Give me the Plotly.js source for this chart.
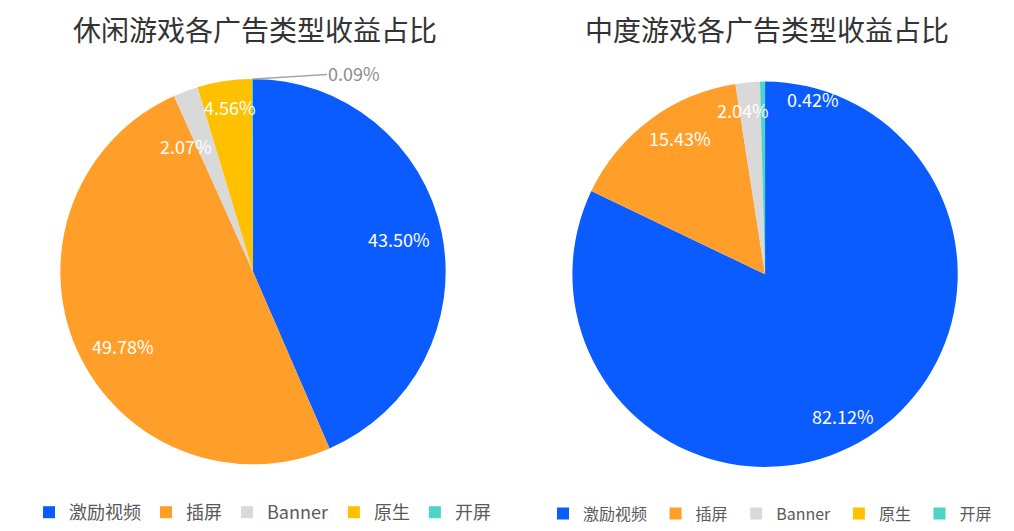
<!DOCTYPE html>
<html>
<head>
<meta charset="utf-8">
<script src="https://cdn.plot.ly/plotly-3.0.1.min.js"></script>
<style>
  html, body { margin: 0; padding: 0; background: #fff; }
  #chart { width: 1014px; height: 531px; }
</style>
</head>
<body>
<div id="chart"></div>
<script>
// ad types and revenue share (%)
const adTypes = ['激励视频', '插屏', 'Banner', '原生', '开屏'];
const casualShare = [43.50, 49.78, 2.07, 4.56, 0.09];
const midcoreShare = [82.12, 15.43, 2.04, 0, 0.42];
const colors = ['#0a5cff', '#ff9f2a', '#d9d9d9', '#ffc000', '#4dd4c8'];

const W = 1014, H = 531;
const font = 'Noto Sans CJK SC, Noto Sans, sans-serif';
const labelSize = 18;

const casualDom = { x: [0.059, 0.44], y: [0.124, 0.851] };
const midcoreDom = { x: [0.564, 0.945], y: [0.119, 0.846] };

// label placement tweaks (px), like excel pushes crowded labels around
const casualNudge = { 0: [-5, -1], 1: [11, 12], 2: [-13, 19], 3: [0, -12] };
const midcoreNudge = { 0: [-4, 11], 1: [7, -13], 2: [-8, -11] };

// put the % labels on the slices, computed from the values
function sliceLabels(values, dom, nudge, smallMode) {
  const cx = (dom.x[0] + dom.x[1]) / 2 * W;
  const cy = (1 - (dom.y[0] + dom.y[1]) / 2) * H;
  const r = Math.min((dom.x[1] - dom.x[0]) * W, (dom.y[1] - dom.y[0]) * H) / 2;
  const total = values.reduce((a, b) => a + b, 0);
  const out = [];
  let cum = 0;
  values.forEach((v, i) => {
    const mid = (cum + v / 2) / total * 2 * Math.PI;
    cum += v;
    if (v <= 0) return;
    const txt = v.toFixed(2) + '%';
    if (v < 1) {
      if (smallMode === 'outside') {
        const ex = cx + r * Math.sin(mid), ey = cy - r * Math.cos(mid);
        out.push({ text: txt, xref: 'paper', yref: 'paper', x: ex / W, y: 1 - ey / H,
          showarrow: true, arrowhead: 0, arrowwidth: 1.5, arrowcolor: '#a6a6a6',
          ax: 102, ay: -6, xanchor: 'center', yanchor: 'middle',
          font: { size: labelSize, color: '#8c8c8c', family: font } });
      } else {
        const px = cx + r * 0.9 * Math.sin(mid), py = cy - r * 0.9 * Math.cos(mid);
        out.push({ text: txt, xref: 'paper', yref: 'paper', x: px / W, y: 1 - py / H,
          showarrow: false, xanchor: 'left', yanchor: 'middle', xshift: 22, yshift: 2,
          font: { size: labelSize, color: '#fff', family: font } });
      }
      return;
    }
    const d = nudge[i] || [0, 0];
    const px = cx + r * 0.8 * Math.sin(mid) + d[0];
    const py = cy - r * 0.8 * Math.cos(mid) + d[1];
    out.push({ text: txt, xref: 'paper', yref: 'paper', x: px / W, y: 1 - py / H,
      showarrow: false, xanchor: 'center', yanchor: 'middle',
      font: { size: labelSize, color: '#fff', family: font } });
  });
  return out;
}

const left = {
  type: 'pie',
  labels: adTypes,
  values: casualShare,
  textinfo: 'none',
  sort: false,
  direction: 'clockwise',
  marker: { colors: colors, line: { color: '#fff', width: 0 } },
  domain: casualDom,
  hoverinfo: 'label+percent',
  legend: 'legend'
};

const right = {
  type: 'pie',
  // trailing space keeps the second legend from merging with the first
  labels: adTypes.map(l => l + ' '),
  values: midcoreShare,
  textinfo: 'none',
  sort: false,
  direction: 'clockwise',
  marker: { colors: colors, line: { color: '#fff', width: 0 } },
  domain: midcoreDom,
  hoverinfo: 'label+percent',
  legend: 'legend2'
};

const legendStyle = {
  orientation: 'h', xanchor: 'left', yanchor: 'middle', y: 0.033,
  font: { size: 18, color: '#595959', family: font },
  itemwidth: 30
};

const titleFont = { size: 28, color: '#333333', family: font };

const layout = {
  width: W,
  height: H,
  margin: { l: 0, r: 0, t: 0, b: 0 },
  paper_bgcolor: '#fff',
  font: { family: font, color: '#595959' },
  showlegend: true,
  legend: Object.assign({}, legendStyle, { x: 0.0286 }),
  // right legend a bit smaller so it stays inside the page
  legend2: Object.assign({}, legendStyle, { x: 0.5355,
    font: { size: 16, color: '#595959', family: font } }),
  annotations: [
    { text: '休闲游戏各广告类型收益占比', xref: 'paper', yref: 'paper', x: 0.251, y: 0.946,
      xanchor: 'center', yanchor: 'middle', showarrow: false, font: titleFont },
    { text: '中度游戏各广告类型收益占比', xref: 'paper', yref: 'paper', x: 0.756, y: 0.946,
      xanchor: 'center', yanchor: 'middle', showarrow: false, font: titleFont }
  ].concat(
    sliceLabels(casualShare, casualDom, casualNudge, 'outside'),
    sliceLabels(midcoreShare, midcoreDom, midcoreNudge, 'inside')
  )
};

Plotly.newPlot('chart', [left, right], layout, { displayModeBar: false, staticPlot: true });
</script>
</body>
</html>
